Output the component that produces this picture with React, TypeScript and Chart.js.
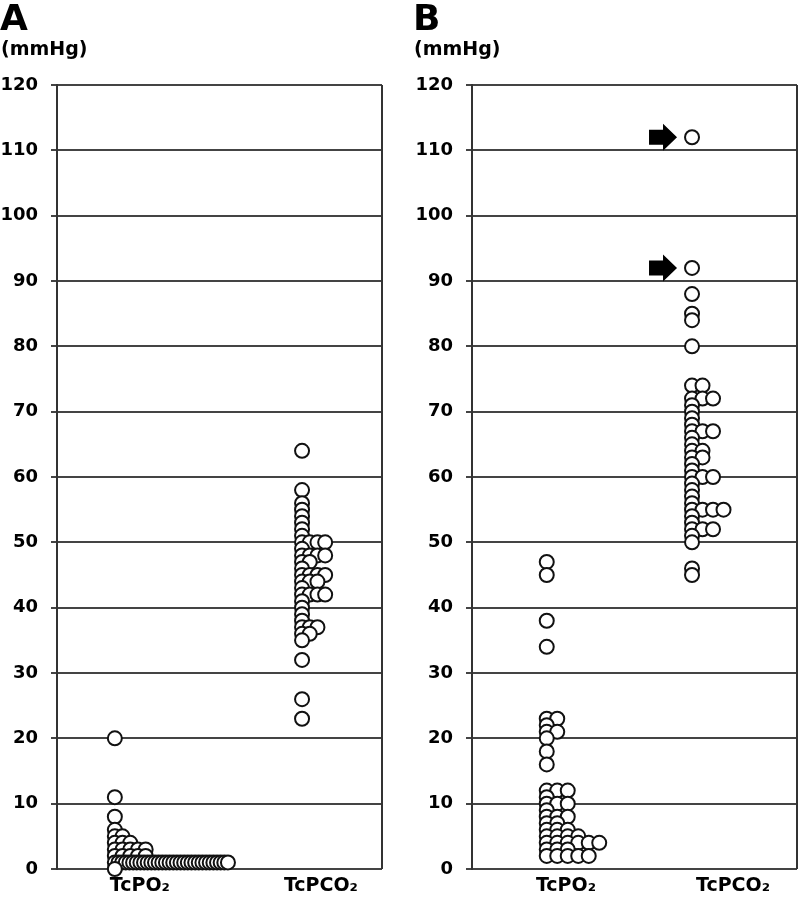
import React, { useEffect, useRef } from "react";
import { Chart, registerables } from "chart.js";

Chart.register(...registerables);

// ---------- data ----------
const Y_TICKS = [0, 10, 20, 30, 40, 50, 60, 70, 80, 90, 100, 110, 120];
const CATEGORIES = ["TcPO₂", "TcPCO₂"];
const UNIT_LABEL = "(mmHg)";

const A_TCPO2 = [
  20, 11, 8, 6, 5, 5, 4, 4, 4, 3, 3, 3, 3, 3, 2, 2, 2, 2, 2,
  1, 1, 1, 1, 1, 1, 1, 1, 1, 1, 1, 1, 1, 1, 1, 1,
  1, 1, 1, 1, 1, 1, 1, 1, 1, 1, 1, 1, 1, 1, 1, 1,
  0,
];
const A_TCPCO2 = [
  64, 58, 56, 55, 54, 53, 52, 51, 50, 50, 50, 50, 49, 48, 48, 48, 48, 47, 47, 46,
  45, 45, 45, 45, 44, 44, 44, 43, 42, 42, 42, 42, 41, 40, 39, 38, 37, 37, 37, 36, 36,
  35, 32, 26, 23,
];
const B_TCPO2 = [
  47, 45, 38, 34, 23, 23, 22, 21, 21, 20, 18, 16,
  12, 12, 12, 11, 10, 10, 10, 9, 8, 8, 8, 7, 7, 6, 6, 6,
  5, 5, 5, 5, 4, 4, 4, 4, 4, 4, 3, 3, 3, 2, 2, 2, 2, 2,
];
const B_TCPCO2 = [
  112, 92, 88, 85, 84, 80, 74, 74, 72, 72, 72, 71, 70, 69, 68, 67, 67, 67, 66, 65,
  64, 64, 63, 63, 62, 61, 60, 60, 60, 59, 58, 57, 56, 55, 55, 55, 55, 54, 53,
  52, 52, 52, 51, 50, 46, 45,
];
const B_ARROW_VALUES = [112, 92];

// ---------- layout (x axis runs 0..100 across the plot) ----------
const PANELS = [
  {
    letter: "A",
    left: 0,
    width: 400,
    axisWidth: 57,
    padRight: 18,
    columns: [17.8, 75.4],
    labelPos: [25.5, 81.2],
    step: 2.37,
    series: [A_TCPO2, A_TCPCO2],
    arrows: [] as number[],
  },
  {
    letter: "B",
    left: 413,
    width: 387,
    axisWidth: 59,
    padRight: 3,
    columns: [23.0, 67.7],
    labelPos: [28.9, 80.3],
    step: 3.23,
    series: [B_TCPO2, B_TCPCO2],
    arrows: B_ARROW_VALUES,
  },
];
const MAX_ROW = 34.8;
const FONT = "DejaVu Sans";
const GRID = "#444";

function dotPlot(values: number[], base: number, step: number) {
  const counts = new Map<number, number>();
  values.forEach((v) => counts.set(v, (counts.get(v) || 0) + 1));
  const seen = new Map<number, number>();
  return values.map((v) => {
    const n = counts.get(v) || 1;
    const i = seen.get(v) || 0;
    seen.set(v, i + 1);
    const s = n > 1 ? Math.min(step, MAX_ROW / (n - 1)) : 0;
    return { x: base + i * s, y: v };
  });
}

function Panel({ cfg }: { cfg: (typeof PANELS)[number] }) {
  const ref = useRef<HTMLCanvasElement>(null);
  useEffect(() => {
    if (!ref.current) return;
    const textPlugin = {
      id: "panelText",
      afterDraw(chart: any) {
        const ctx = chart.ctx;
        ctx.save();
        ctx.fillStyle = "#000";
        ctx.textAlign = "left";
        ctx.textBaseline = "alphabetic";
        ctx.font = `bold 36px "${FONT}"`;
        ctx.fillText(cfg.letter, 0, 30);
        ctx.font = `bold 19px "${FONT}"`;
        ctx.fillText(UNIT_LABEL, 1, 55);
        ctx.restore();
      },
    };
    const framePlugin = {
      id: "frame",
      beforeDatasetsDraw(chart: any) {
        const { ctx, chartArea } = chart;
        ctx.save();
        ctx.strokeStyle = "#333";
        ctx.lineWidth = 2;
        ctx.beginPath();
        ctx.moveTo(chartArea.right, chartArea.top);
        ctx.lineTo(chartArea.right, chartArea.bottom);
        ctx.stroke();
        ctx.restore();
      },
    };
    const arrowPlugin = {
      id: "arrows",
      afterDatasetsDraw(chart: any) {
        const { ctx } = chart;
        const xs = chart.scales.x;
        const ys = chart.scales.y;
        ctx.save();
        ctx.fillStyle = "#000";
        cfg.arrows.forEach((v) => {
          const y = ys.getPixelForValue(v);
          const tip = xs.getPixelForValue(cfg.columns[1]) - 15;
          ctx.beginPath();
          ctx.moveTo(tip, y);
          ctx.lineTo(tip - 14, y - 13.5);
          ctx.lineTo(tip - 14, y - 7.5);
          ctx.lineTo(tip - 28, y - 7.5);
          ctx.lineTo(tip - 28, y + 7.5);
          ctx.lineTo(tip - 14, y + 7.5);
          ctx.lineTo(tip - 14, y + 13.5);
          ctx.closePath();
          ctx.fill();
        });
        ctx.restore();
      },
    };
    const chart = new Chart(ref.current, {
      type: "scatter",
      data: {
        datasets: cfg.series.map((vals, k) => ({
          label: CATEGORIES[k],
          data: dotPlot(vals, cfg.columns[k], cfg.step),
          pointRadius: 7,
          pointHoverRadius: 7,
          pointBorderWidth: 2,
          borderColor: "#111",
          backgroundColor: "#fff",
          clip: false as any,
        })),
      },
      options: {
        animation: false,
        responsive: false,
        events: [],
        layout: { autoPadding: false, padding: { top: 85, right: cfg.padRight, left: 0, bottom: 0 } },
        plugins: { legend: { display: false }, tooltip: { enabled: false }, title: { display: false } },
        scales: {
          x: {
            type: "linear",
            min: 0,
            max: 100,
            afterBuildTicks: (s: any) => {
              s.ticks = cfg.labelPos.map((v) => ({ value: v }));
            },
            ticks: {
              autoSkip: false,
              maxRotation: 0,
              padding: 6,
              color: "#000",
              font: { family: FONT, weight: "bold", size: 19 },
              callback: (_v: any, i: number) => CATEGORIES[i],
            },
            grid: { display: false, drawTicks: false },
            border: { display: false },
            afterFit: (s: any) => {
              s.height = 55;
              s.paddingLeft = 0;
              s.paddingRight = 0;
            },
          },
          y: {
            min: 0,
            max: 120,
            afterBuildTicks: (s: any) => {
              s.ticks = Y_TICKS.map((v) => ({ value: v }));
            },
            ticks: {
              padding: 13,
              color: "#000",
              font: { family: FONT, weight: "bold", size: 18 },
            },
            grid: { color: GRID, lineWidth: 2, tickLength: 6, tickColor: GRID },
            border: { display: true, color: "#333", width: 2 },
            afterFit: (s: any) => {
              s.width = cfg.axisWidth;
            },
          },
        },
      },
      plugins: [textPlugin, framePlugin, arrowPlugin],
    } as any);
    return () => chart.destroy();
  }, [cfg]);
  return (
    <canvas
      ref={ref}
      width={cfg.width}
      height={924}
      style={{ position: "absolute", left: cfg.left, top: 0, display: "block" }}
    />
  );
}

export default function App() {
  return (
    <div style={{ position: "fixed", left: 0, top: 0, width: 800, height: 924, background: "#fff" }}>
      {PANELS.map((p) => (
        <Panel key={p.letter} cfg={p} />
      ))}
    </div>
  );
}
